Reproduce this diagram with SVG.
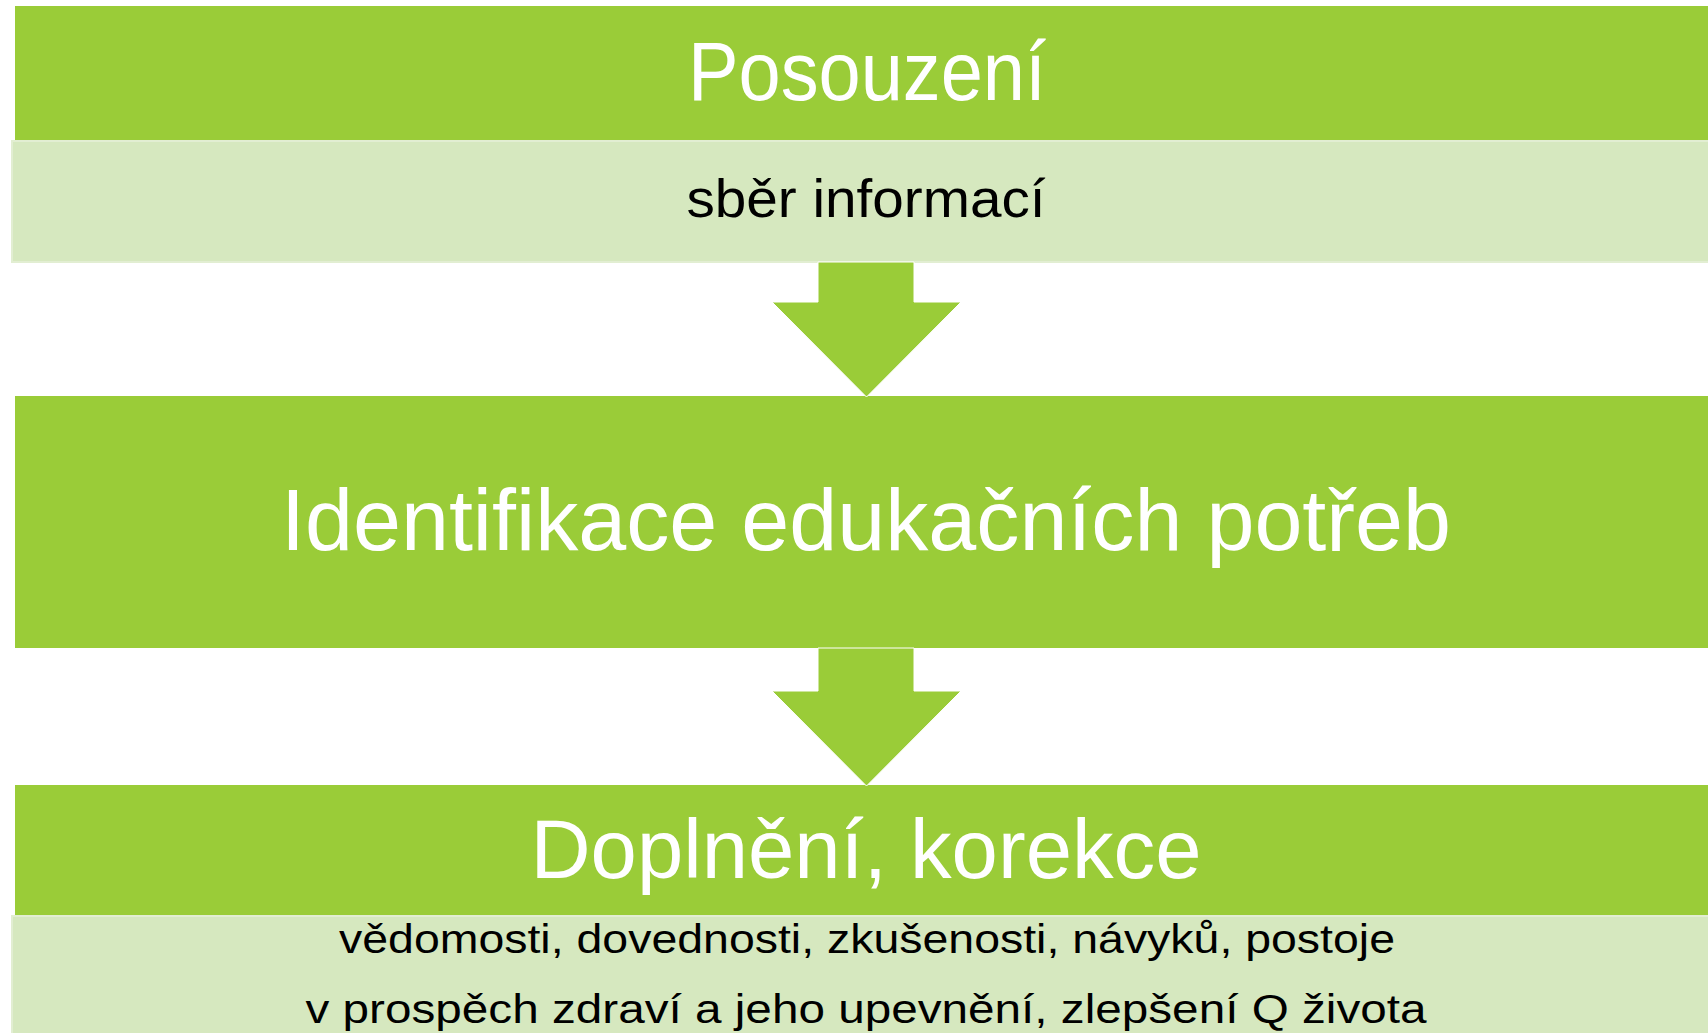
<svg xmlns="http://www.w3.org/2000/svg" width="1708" height="1033" viewBox="0 0 1708 1033">
<style>
.g{fill:#9ACC38;}
.l{fill:#D6E8BF;stroke:#E2EED2;stroke-width:2;}
.w{fill:#FFFFFF;font-family:"Liberation Sans","DejaVu Sans",sans-serif;}
.b{fill:#000000;font-family:"Liberation Sans","DejaVu Sans",sans-serif;}
.arr{fill:#9ACC38;stroke:#FFFFFF;stroke-width:1;}
</style>
<rect width="1708" height="1033" fill="#FFFFFF"/>
<g id="node-posouzeni">
<rect class="g" x="15" y="6" width="1695" height="135"/>
<text class="w" x="867" y="100" font-size="83" text-anchor="middle" textLength="358" lengthAdjust="spacingAndGlyphs">Posouzení</text>
</g>
<g id="node-sber">
<rect class="l" x="12" y="141" width="1698" height="121"/>
<text class="b" x="866" y="217" font-size="54" text-anchor="middle" textLength="359" lengthAdjust="spacingAndGlyphs">sběr informací</text>
</g>
<g id="node-identifikace">
<rect class="g" x="15" y="396" width="1695" height="252"/>
<text class="w" x="866" y="550" font-size="87" text-anchor="middle" textLength="1170" lengthAdjust="spacingAndGlyphs">Identifikace edukačních potřeb</text>
</g>
<g id="node-doplneni">
<rect class="g" x="15" y="785" width="1695" height="131"/>
<text class="w" x="866" y="878" font-size="83" text-anchor="middle" textLength="671" lengthAdjust="spacingAndGlyphs">Doplnění, korekce</text>
</g>
<g id="node-detail">
<rect class="l" x="12" y="916" width="1698" height="120"/>
<text class="b" x="867" y="953" font-size="40" text-anchor="middle" textLength="1056" lengthAdjust="spacingAndGlyphs">vědomosti, dovednosti, zkušenosti, návyků, postoje</text>
<text class="b" x="866" y="1023" font-size="40" text-anchor="middle" textLength="1121" lengthAdjust="spacingAndGlyphs">v prospěch zdraví a jeho upevnění, zlepšení Q života</text>
</g>
<g id="connectors">
<polygon class="arr" points="818,262 914,262 914,302 961,302 866.5,397 772,302 818,302"/>
<polygon class="arr" points="818,648 914,648 914,691 961,691 866.5,786 772,691 818,691"/>
</g>
</svg>
